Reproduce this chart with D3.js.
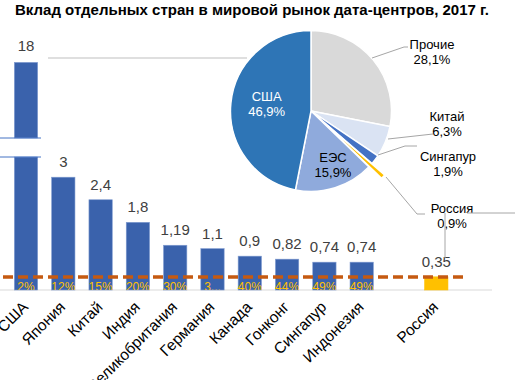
<!DOCTYPE html>
<html><head><meta charset="utf-8">
<script src="https://cdn.jsdelivr.net/npm/d3@7"></script>
<style>body{margin:0;background:#fff}svg{display:block;font-family:"Liberation Sans",Arial,sans-serif}</style>
</head><body>
<script>
const title = "Вклад отдельных стран в мировой рынок дата-центров, 2017 г.";
const countries = ["США","Япония","Китай","Индия","Великобритания","Германия","Канада","Гонконг","Сингапур","Индонезия","Россия"];
const values = [18,3,2.4,1.8,1.19,1.1,0.9,0.82,0.74,0.74,0.35];
const valueLabels = ["18","3","2,4","1,8","1,19","1,1","0,9","0,82","0,74","0,74","0,35"];
const shareLabels = ["2%","12%","15%","20%","30%","3...","40%","44%","49%","49%",""];
const pieNames = ["Прочие","Китай","Сингапур","Россия","ЕЭС","США"];
const pieValues = [28.1,6.3,1.9,0.9,15.9,46.9];
const pieValueLabels = ["28,1%","6,3%","1,9%","0,9%","15,9%","46,9%"];

const W = 515, H = 380;
const svg = d3.select("body").append("svg").attr("width", W).attr("height", H);

svg.append("text").attr("x", 15).attr("y", 15).attr("font-size", 14).attr("font-weight", "bold")
  .attr("textLength", 474).attr("lengthAdjust", "spacingAndGlyphs")
  .attr("fill", "#000").text(title);

// bar chart
const slots = countries.slice(0, 10).concat(["_gap"], countries.slice(10));
const x = d3.scaleBand().domain(slots).range([7.35, 454.95]).paddingInner(0.375).paddingOuter(0.1875);
const y = d3.scaleLinear().domain([0, 3.5]).range([290, 158.4]);
const yTop = d3.scaleLinear().domain([16, 18]).range([137.6, 62.4]);
const breakLow = 157, breakHigh = 138;
const blue = "#3A62AC", yellow = "#FFC000";

// gray leader line on top
svg.append("line").attr("x1", 48).attr("x2", 247).attr("y1", 58).attr("y2", 58)
  .attr("stroke", "#BFBFBF").attr("stroke-width", 1);

// baseline
svg.append("line").attr("x1", 0).attr("x2", 492).attr("y1", y(0)).attr("y2", y(0))
  .attr("stroke", "#D9D9D9").attr("stroke-width", 1);

const bars = svg.append("g");
countries.forEach((c, i) => {
  const v = values[i];
  const bx = x(c), bw = x.bandwidth();
  const col = c === "Россия" ? yellow : blue;
  if (v > 3.5) {
    bars.append("rect").attr("x", bx).attr("y", breakLow).attr("width", bw).attr("height", y(0) - breakLow)
      .attr("fill", col).attr("stroke", "#7F9BD0").attr("stroke-width", 0.6);
    bars.append("rect").attr("x", bx).attr("y", yTop(v)).attr("width", bw).attr("height", breakHigh - yTop(v))
      .attr("fill", col).attr("stroke", "#7F9BD0").attr("stroke-width", 0.6);
    bars.append("text").attr("x", bx + bw / 2).attr("y", yTop(v) - 11).attr("text-anchor", "middle")
      .attr("font-size", 15).attr("fill", "#404040").text(valueLabels[i]);
  } else {
    bars.append("rect").attr("x", bx).attr("y", y(v)).attr("width", bw).attr("height", y(0) - y(v))
      .attr("fill", col).attr("stroke", c === "Россия" ? yellow : "#7F9BD0").attr("stroke-width", 0.6);
    bars.append("text").attr("x", bx + bw / 2).attr("y", y(v) - 10).attr("text-anchor", "middle")
      .attr("font-size", 15).attr("fill", "#404040").text(valueLabels[i]);
  }
});
// break markers
[breakHigh, breakLow].forEach(yy => svg.append("line").attr("x1", 0).attr("x2", 41).attr("y1", yy).attr("y2", yy)
  .attr("stroke", "#4472C4").attr("stroke-width", 1));

// share labels (clipped at baseline)
svg.append("clipPath").attr("id", "clipb").append("rect").attr("x", 0).attr("y", 0).attr("width", W).attr("height", y(0));
const sl = svg.append("g").attr("clip-path", "url(#clipb)");
countries.forEach((c, i) => {
  sl.append("text").attr("x", x(c) + x.bandwidth() / 2).attr("y", 291).attr("text-anchor", "middle")
    .attr("font-size", 12).attr("fill", yellow).text(shareLabels[i]);
});

// dashed line
svg.append("line").attr("x1", 3).attr("x2", 468).attr("y1", 277).attr("y2", 277)
  .attr("stroke", "#C55A11").attr("stroke-width", 3.5).attr("stroke-dasharray", "10,5");

// x labels
countries.forEach(c => {
  svg.append("text").attr("transform", `translate(${x(c) + x.bandwidth() / 2 + 3},${308}) rotate(-45)`)
    .attr("text-anchor", "end").attr("font-size", 15.5).attr("fill", "#000").text(c);
});

// pie
const cx = 311, cy = 111, R = 80.5;
const pieColors = ["#D9D9D9", "#DAE3F3", "#4472C4", "#FFC000", "#8FAADC", "#2E75B6"];
const arcs = d3.pie().sort(null).value(d => d)(pieValues);
const arc = d3.arc().innerRadius(0).outerRadius(R);
const pg = svg.append("g").attr("transform", `translate(${cx},${cy})`);
arcs.forEach((a, i) => {
  const mid = (a.startAngle + a.endAngle) / 2;
  const off = pieNames[i] === "Россия" ? 17 : 0;
  pg.append("path").attr("d", arc(a))
    .attr("transform", `translate(${off * Math.sin(mid)},${-off * Math.cos(mid)})`)
    .attr("fill", pieColors[i]).attr("stroke", "#fff").attr("stroke-width", 1.5);
});

// inside labels
const inside = {"США": [266.7, 101, "#fff"], "ЕЭС": [333, 162, "#000"]};
pieNames.forEach((n, i) => {
  if (inside[n]) {
    const [lx, ly, col] = inside[n];
    const t = svg.append("text").attr("text-anchor", "middle").attr("font-size", 13).attr("fill", col);
    t.append("tspan").attr("x", lx).attr("y", ly).text(n);
    t.append("tspan").attr("x", lx).attr("dy", 15).text(pieValueLabels[i]);
  }
});

// outside labels
const outside = {
  "Прочие": {pos: [432, 49], line: [[372, 58], [404, 47], [408, 47]]},
  "Китай": {pos: [447, 121], line: [[388, 139], [433, 134]]},
  "Сингапур": {pos: [448, 161], line: [[378, 155], [405, 146], [417, 146]]},
  "Россия": {pos: [452, 213], line: [[386, 177], [417, 214], [425, 214]]}
};
pieNames.forEach((n, i) => {
  const o = outside[n];
  if (!o) return;
  svg.append("path").attr("d", d3.line()(o.line)).attr("fill", "none").attr("stroke", "#A6A6A6").attr("stroke-width", 1);
  const t = svg.append("text").attr("text-anchor", "middle").attr("font-size", 13).attr("fill", "#000");
  t.append("tspan").attr("x", o.pos[0]).attr("y", o.pos[1]).text(n);
  t.append("tspan").attr("x", o.pos[0]).attr("dy", 15).text(pieValueLabels[i]);
});

// extra leader lines near Russia
svg.append("path").attr("d", d3.line()([[515, 213], [467, 213]])).attr("fill", "none").attr("stroke", "#A6A6A6").attr("stroke-width", 1);
svg.append("path").attr("d", d3.line()([[445, 213], [445, 258]])).attr("fill", "none").attr("stroke", "#A6A6A6").attr("stroke-width", 1);
</script>
</body></html>
